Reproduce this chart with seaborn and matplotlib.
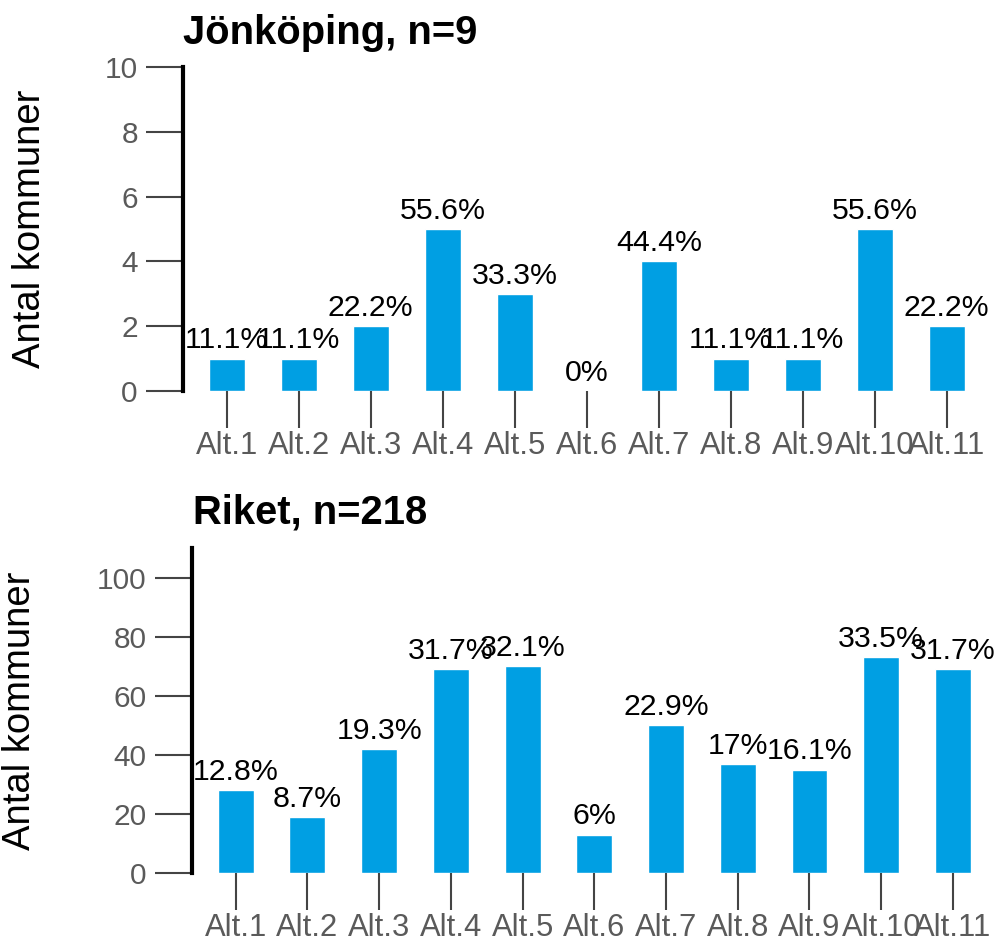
import matplotlib
matplotlib.use("Agg")
import matplotlib.pyplot as plt
import seaborn as sns
import pandas as pd

# Data
alternatives = ["Alt.1", "Alt.2", "Alt.3", "Alt.4", "Alt.5", "Alt.6",
                "Alt.7", "Alt.8", "Alt.9", "Alt.10", "Alt.11"]
jkpg_counts = [1, 1, 2, 5, 3, 0, 4, 1, 1, 5, 2]
jkpg_pct = ["11.1%", "11.1%", "22.2%", "55.6%", "33.3%", "0%",
            "44.4%", "11.1%", "11.1%", "55.6%", "22.2%"]
riket_counts = [28, 19, 42, 69, 70, 13, 50, 37, 35, 73, 69]
riket_pct = ["12.8%", "8.7%", "19.3%", "31.7%", "32.1%", "6%",
             "22.9%", "17%", "16.1%", "33.5%", "31.7%"]
jkpg_yticks = [0, 2, 4, 6, 8, 10]
riket_yticks = [0, 20, 40, 60, 80, 100]

bar_color = "#009FE3"

sns.set_style("white")
plt.rcParams['font.family'] = ['Liberation Sans', 'DejaVu Sans']

fig = plt.figure(figsize=(10.05, 9.43), dpi=100)

panels = [
    # title, counts, labels, yticks, ylim, axes rect, title pos, ylabel x
    ("Jönköping, n=9", jkpg_counts, jkpg_pct, jkpg_yticks, 10,
     [0.182, 0.5854, 0.803, 0.3436], (0.182, 1 - 44 / 943), 0.048),
    ("Riket, n=218", riket_counts, riket_pct, riket_yticks, 110,
     [0.191, 0.0742, 0.80, 0.3447], (0.192, 1 - 524 / 943), 0.038),
]

for title, counts, pct, yticks, ytop, rect, tpos, ylx in panels:
    ax = fig.add_axes(rect)
    df = pd.DataFrame({"alt": alternatives, "n": counts})
    sns.barplot(data=df, x="alt", y="n", order=alternatives, color=bar_color,
                saturation=1, width=0.5, ax=ax)
    ax.bar_label(ax.containers[0], labels=pct, padding=3, fontsize=21.8,
                 color="black")
    ax.set_xlim(-0.61, 10.6)
    ax.set_ylim(0, ytop)
    ax.set_yticks(yticks)
    ax.set_xlabel("")
    ax.set_ylabel("Antal kommuner", fontsize=27.5, color="black")
    ax.yaxis.set_label_coords(ylx, rect[1] + rect[3] / 2,
                              transform=fig.transFigure)
    for s in ["top", "right", "bottom"]:
        ax.spines[s].set_visible(False)
    ax.spines["left"].set_linewidth(3)
    ax.spines["left"].set_color("black")
    ax.tick_params(axis="both", direction="out", length=26.5, width=1.5,
                   color="#444444", labelcolor="#5a5a5a", labelsize=21.5,
                   bottom=True, left=True)
    ax.tick_params(axis="y", pad=6)
    ax.tick_params(axis="x", pad=2, labelsize=22.3)
    fig.text(tpos[0], tpos[1], title, fontsize=28.8, fontweight="bold",
             va="baseline", ha="left", color="black")

fig.savefig("out.png", dpi=100)
